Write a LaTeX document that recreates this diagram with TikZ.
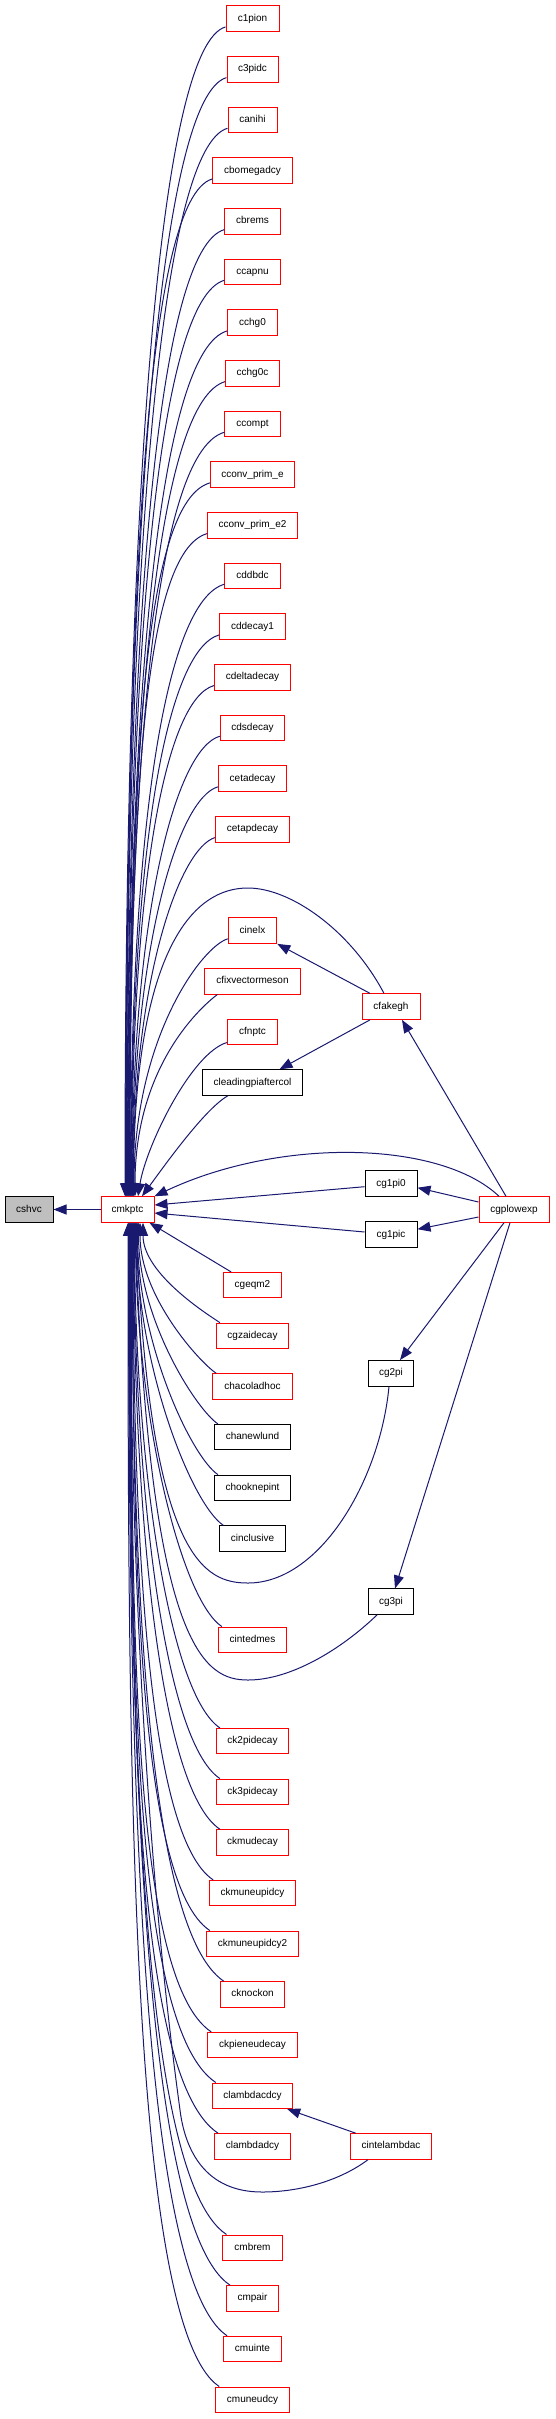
\documentclass[tikz,border=0pt]{standalone}
\usepackage{fontspec}
\setmainfont{Liberation Sans}
\usetikzlibrary{arrows.meta}
\definecolor{edgeblue}{RGB}{25,25,112}
\definecolor{boxred}{RGB}{255,0,0}
\definecolor{boxgray}{RGB}{191,191,191}
\begin{document}
\begin{tikzpicture}[x=1pt,y=-1pt,
  box/.style={draw=boxred, line width=1pt, fill=white, rectangle, minimum height=25.5pt, inner sep=0pt, text height=7pt, text depth=2pt, font=\fontsize{10}{12}\selectfont},
  bbox/.style={box, draw=black},
  gbox/.style={box, draw=black, fill=boxgray},
  edge/.style={draw=edgeblue, line width=1pt, -{Triangle[length=13pt,width=10pt]}}]
\useasboundingbox (0,0) rectangle (555,2419);
% central nodes
\node[gbox, minimum width=48pt] (cshvc) at (29,1209.5) {cshvc};
\node[box, minimum width=53pt] (cmkptc) at (127.5,1209.5) {cmkptc};
\node[box, minimum width=70pt] (cgplowexp) at (514,1209.5) {cgplowexp};
\node[box, minimum width=58pt] (cfakegh) at (391,1006.6) {cfakegh};
\node[bbox, minimum width=52pt] (cg1pi0) at (391,1183.7) {cg1pi0};
\node[bbox, minimum width=52pt] (cg1pic) at (391,1234.7) {cg1pic};
\node[bbox, minimum width=45.3pt] (cg2pi) at (391,1373.3) {cg2pi};
\node[bbox, minimum width=45.3pt] (cg3pi) at (391,1601.7) {cg3pi};
\node[box, minimum width=81.7pt] (cintelambdac) at (391,2146.4) {cintelambdac};
% left column
\node[box, minimum width=53pt] (c1pion) at (252.5,18.7) {c1pion};
\node[box, minimum width=51pt] (c3pidc) at (252.5,69.36) {c3pidc};
\node[box, minimum width=49pt] (canihi) at (252.5,120.02) {canihi};
\node[box, minimum width=79.3pt] (cbomegadcy) at (252.5,170.68) {cbomegadcy};
\node[box, minimum width=55.2pt] (cbrems) at (252.5,221.34) {cbrems};
\node[box, minimum width=55.2pt] (ccapnu) at (252.5,272) {ccapnu};
\node[box, minimum width=49.6pt] (cchg0) at (252.5,322.66) {cchg0};
\node[box, minimum width=53.5pt] (cchg0c) at (252.5,373.32) {cchg0c};
\node[box, minimum width=55.2pt] (ccompt) at (252.5,423.98) {ccompt};
\node[box, minimum width=84.2pt] (cconvprime) at (252.5,474.64) {cconv\_prim\_e};
\node[box, minimum width=89.6pt] (cconvprimetwo) at (252.5,525.3) {cconv\_prim\_e2};
\node[box, minimum width=55.2pt] (cddbdc) at (252.5,575.96) {cddbdc};
\node[box, minimum width=65.5pt] (cddecay1) at (252.5,626.62) {cddecay1};
\node[box, minimum width=76.1pt] (cdeltadecay) at (252.5,677.28) {cdeltadecay};
\node[box, minimum width=64.4pt] (cdsdecay) at (252.5,727.94) {cdsdecay};
\node[box, minimum width=68.3pt] (cetadecay) at (252.5,778.6) {cetadecay};
\node[box, minimum width=73.6pt] (cetapdecay) at (252.5,829.26) {cetapdecay};
\node[box, minimum width=48.5pt] (cinelx) at (252.5,930.58) {cinelx};
\node[box, minimum width=95.2pt] (cfixvectormeson) at (252.5,981.24) {cfixvectormeson};
\node[box, minimum width=49.6pt] (cfnptc) at (252.5,1031.9) {cfnptc};
\node[bbox, minimum width=100.4pt] (cleadingpiaftercol) at (252.5,1082.56) {cleadingpiaftercol};
\node[box, minimum width=57.7pt] (cgeqm2) at (252.5,1285.2) {cgeqm2};
\node[box, minimum width=72.2pt] (cgzaidecay) at (252.5,1335.86) {cgzaidecay};
\node[box, minimum width=79.6pt] (chacoladhoc) at (252.5,1386.52) {chacoladhoc};
\node[bbox, minimum width=76.1pt] (chanewlund) at (252.5,1437.18) {chanewlund};
\node[bbox, minimum width=76.1pt] (chooknepint) at (252.5,1487.84) {chooknepint};
\node[bbox, minimum width=65.5pt] (cinclusive) at (252.5,1538.5) {cinclusive};
\node[box, minimum width=68.3pt] (cintedmes) at (252.5,1639.82) {cintedmes};
\node[box, minimum width=72.2pt] (ck2pidecay) at (252.5,1741.14) {ck2pidecay};
\node[box, minimum width=72.2pt] (ck3pidecay) at (252.5,1791.8) {ck3pidecay};
\node[box, minimum width=72.2pt] (ckmudecay) at (252.5,1842.46) {ckmudecay};
\node[box, minimum width=85.7pt] (ckmuneupidcy) at (252.5,1893.12) {ckmuneupidcy};
\node[box, minimum width=92.4pt] (ckmuneupidcytwo) at (252.5,1943.78) {ckmuneupidcy2};
\node[box, minimum width=64.4pt] (cknockon) at (252.5,1994.44) {cknockon};
\node[box, minimum width=89.6pt] (ckpieneudecay) at (252.5,2045.1) {ckpieneudecay};
\node[box, minimum width=80.4pt] (clambdacdcy) at (252.5,2095.76) {clambdacdcy};
\node[box, minimum width=76pt] (clambdadcy) at (252.5,2146.42) {clambdadcy};
\node[box, minimum width=59.1pt] (cmbrem) at (252.5,2247.74) {cmbrem};
\node[box, minimum width=52pt] (cmpair) at (252.5,2298.4) {cmpair};
\node[box, minimum width=57.7pt] (cmuinte) at (252.5,2349.06) {cmuinte};
\node[box, minimum width=73.6pt] (cmuneudcy) at (252.5,2399.72) {cmuneudcy};
% edges: upper column to cmkptc
\foreach \n/\r/\dx in {c1pion/0/-2.5, c3pidc/1/-2, canihi/2/-1.5, cbomegadcy/3/-1, cbrems/4/-0.5, ccapnu/5/0, cchg0/6/0.5, cchg0c/7/1, ccompt/8/1.5, cconvprime/9/2, cconvprimetwo/10/2.5, cddbdc/11/3, cddecay1/12/3.5, cdeltadecay/13/4, cdsdecay/14/4.5, cetadecay/15/5, cetapdecay/16/5.5, cinelx/18/6.5}{
  \pgfmathsetmacro\d{1197-(18.7+50.66*\r)}
  \pgfmathsetmacro\f{min(1,\d/700)}
  \pgfmathsetmacro\ax{-66*\f}
  \pgfmathsetmacro\ay{19*\f}
  \pgfmathsetmacro\by{-0.6*\d}
  \draw[edge] ([yshift=5pt]\n.south west) .. controls +(\ax,\ay) and +(0,\by) .. ([xshift=\dx pt]cmkptc.north);
}
% edges: lower column to cmkptc
\foreach \n/\r/\dx in {cgzaidecay/26/15.5, chacoladhoc/27/12.5, chanewlund/28/11, chooknepint/29/10, cinclusive/30/9, cintedmes/32/8, ck2pidecay/34/7, ck3pidecay/35/6.5, ckmudecay/36/6, ckmuneupidcy/37/5.5, ckmuneupidcytwo/38/5, cknockon/39/4.5, ckpieneudecay/40/4, clambdacdcy/41/3.5, clambdadcy/42/3, cmbrem/44/2, cmpair/45/1.5, cmuinte/46/1, cmuneudcy/47/0.5}{
  \pgfmathsetmacro\d{(18.7+50.66*\r)-1222}
  \pgfmathsetmacro\f{min(1,\d/900)}
  \pgfmathsetmacro\ax{-90*\f}
  \pgfmathsetmacro\ay{-60*\f}
  \pgfmathsetmacro\by{0.45*\d}
  \draw[edge] ([xshift=4pt]\n.north west) .. controls +(\ax,\ay) and +(0,\by) .. ([xshift=\dx pt]cmkptc.south);
}
% individual edges
\draw[edge] (cmkptc.west) -- (cshvc.east);
\draw[edge] ([xshift=13pt]cfixvectormeson.south west) .. controls +(-20,15) and +(0,-127) .. ([xshift=7.5pt]cmkptc.north);
\draw[edge] ([yshift=2.7pt]cfnptc.south west) .. controls +(-35.7,10) and +(8,-50) .. ([xshift=10.5pt]cmkptc.north);
\draw[edge] ([xshift=26pt]cleadingpiaftercol.south west) .. controls +(-23,13) and +(22,-30) .. ([xshift=14.5pt]cmkptc.north);
\draw[edge] ([xshift=8pt]cgeqm2.north west) -- ([xshift=-5pt]cmkptc.south east);
\draw[edge] ([xshift=-7pt]cfakegh.north) .. controls +(-34,-64) and +(42,0) .. (248,888) .. controls +(-68,0) and +(0,-217) .. ([xshift=6pt]cmkptc.north);
\draw[edge] ([xshift=-15pt]cgplowexp.north) .. controls +(-59,-56) and +(125,-59) .. (cmkptc.north east);
\draw[edge] ([yshift=-3pt]cg1pi0.west) -- ([yshift=4.5pt]cmkptc.east);
\draw[edge] ([yshift=2.7pt]cg1pic.west) -- ([yshift=-3.5pt]cmkptc.east);
\draw[edge] ([yshift=7.5pt]cgplowexp.west) -- ([yshift=-4pt]cg1pi0.east);
\draw[edge] ([yshift=-7.5pt]cgplowexp.west) -- ([yshift=5.5pt]cg1pic.east);
\draw[edge] ([xshift=-8pt]cgplowexp.north) -- ([xshift=11pt]cfakegh.south);
\draw[edge] ([xshift=-21pt]cfakegh.north) -- (cinelx.south east);
\draw[edge] ([xshift=-21pt]cfakegh.south) -- ([xshift=27pt]cleadingpiaftercol.north);
\draw[edge] ([xshift=-10pt]cgplowexp.south) -- ([xshift=9pt]cg2pi.north);
\draw[edge] ([xshift=-4pt]cgplowexp.south) -- ([xshift=4pt]cg3pi.north);
\draw[edge] ([xshift=-2pt]cg2pi.south) .. controls +(-9,94) and +(72,0) .. (248,1583) .. controls +(-43,0) and +(14,338) .. ([xshift=8.5pt]cmkptc.south);
\draw[edge] ([xshift=-14pt]cg3pi.south) .. controls +(-37,35.5) and +(42,0) .. (248,1680) .. controls +(-43,0) and +(15,428) .. ([xshift=7.5pt]cmkptc.south);
\draw[edge] ([xshift=6pt]cintelambdac.north west) -- ([xshift=-6pt]clambdacdcy.south east);
\draw[edge] ([xshift=-23pt]cintelambdac.south) .. controls +(-28,21) and +(38,0) .. (262,2192) .. controls +(-57,0) and +(5,40) .. (180,2110) .. controls +(-8,-60) and +(0,528) .. ([xshift=2.5pt]cmkptc.south);
\end{tikzpicture}
\end{document}
